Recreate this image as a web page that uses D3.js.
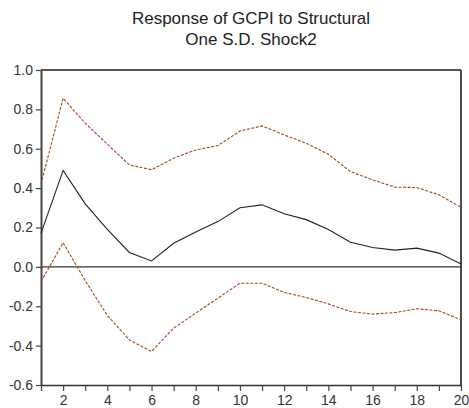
<!DOCTYPE html>
<html>
<head>
<meta charset="utf-8">
<script src="https://cdn.jsdelivr.net/npm/d3@7"></script>
<style>
  html, body { margin: 0; padding: 0; background: #fff; }
  svg { display: block; }
</style>
</head>
<body>
<script>
const periods = [1,2,3,4,5,6,7,8,9,10,11,12,13,14,15,16,17,18,19,20];
const response = [0.17,0.49,0.32,0.19,0.073,0.03,0.12,0.177,0.23,0.30,0.315,0.27,0.24,0.19,0.125,0.098,0.085,0.095,0.07,0.015];
const upperBand = [0.42,0.857,0.73,0.623,0.518,0.493,0.552,0.594,0.616,0.69,0.716,0.67,0.628,0.572,0.484,0.442,0.405,0.403,0.366,0.303];
const lowerBand = [-0.075,0.123,-0.07,-0.247,-0.371,-0.43,-0.311,-0.235,-0.159,-0.083,-0.083,-0.13,-0.156,-0.188,-0.227,-0.24,-0.232,-0.213,-0.223,-0.269];
const yTicks = [-0.6,-0.4,-0.2,0.0,0.2,0.4,0.6,0.8,1.0];
const xLabels = [2,4,6,8,10,12,14,16,18,20];
const titleLines = ["Response of GCPI to Structural", "One S.D. Shock2"];

const W = 469, H = 408;
const m = {left: 41, right: 8, top: 70, bottom: 23};
const svg = d3.select("body").append("svg").attr("width", W).attr("height", H);

const x = d3.scaleLinear().domain([1, 20]).range([m.left, W - m.right]);
const y = d3.scaleLinear().domain([-0.6, 1.0]).range([H - m.bottom, m.top]);

// title
svg.append("g").selectAll("text").data(titleLines).join("text")
  .attr("x", (x(1) + x(20)) / 2)
  .attr("y", (d, i) => 24 + i * 21)
  .attr("text-anchor", "middle")
  .attr("font-family", "Liberation Sans, Arial, sans-serif")
  .attr("font-size", 17)
  .attr("fill", "#222")
  .text(d => d);

// frame: top and right
svg.append("line").attr("x1", x(1)).attr("x2", x(20)).attr("y1", y(1)).attr("y2", y(1))
  .attr("stroke", "#555").attr("stroke-width", 2);
svg.append("line").attr("x1", x(20)).attr("x2", x(20)).attr("y1", y(1)).attr("y2", y(-0.6))
  .attr("stroke", "#111").attr("stroke-width", 1.5);

// zero line
svg.append("line").attr("x1", x(1)).attr("x2", x(20)).attr("y1", y(0)).attr("y2", y(0))
  .attr("stroke", "#333").attr("stroke-width", 1.2);

// y axis
const yAxis = svg.append("g").attr("transform", `translate(${x(1)},0)`)
  .call(d3.axisLeft(y).tickValues(yTicks).tickFormat(d3.format(".1f")).tickSize(5).tickSizeOuter(0));
yAxis.select(".domain").attr("stroke", "#444").attr("stroke-width", 2);
yAxis.selectAll(".tick line").attr("stroke", "#444").attr("stroke-width", 1.2);
yAxis.selectAll(".tick text").attr("font-family", "Liberation Sans, Arial, sans-serif")
  .attr("font-size", 14).attr("fill", "#333").attr("x", -8)
  .text(d => d3.format(".1f")(d).replace("−", "-"));

// x axis
const xAxis = svg.append("g").attr("transform", `translate(0,${y(-0.6)})`)
  .call(d3.axisBottom(x).tickValues(periods).tickFormat(d => xLabels.includes(d) ? d : "").tickSize(6).tickSizeOuter(0));
xAxis.select(".domain").attr("stroke", "#333").attr("stroke-width", 1.5);
xAxis.selectAll(".tick line").attr("stroke", "#444").attr("stroke-width", 1.2);
xAxis.selectAll(".tick text").attr("font-family", "Liberation Sans, Arial, sans-serif")
  .attr("font-size", 14).attr("fill", "#333").attr("dy", "0.85em").attr("y", 8);

const line = d3.line().x((d, i) => x(periods[i])).y(d => y(d));

svg.append("path").datum(upperBand).attr("d", line)
  .attr("fill", "none").attr("stroke", "#a3461b").attr("stroke-width", 1.1).attr("stroke-dasharray", "3,1.5");
svg.append("path").datum(lowerBand).attr("d", line)
  .attr("fill", "none").attr("stroke", "#a3461b").attr("stroke-width", 1.1).attr("stroke-dasharray", "3,1.5");
svg.append("path").datum(response).attr("d", line)
  .attr("fill", "none").attr("stroke", "#222").attr("stroke-width", 1.1);
</script>
</body>
</html>
